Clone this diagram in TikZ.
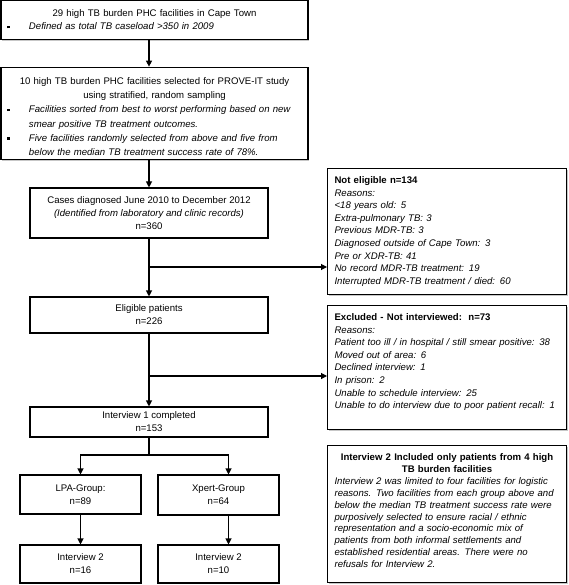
\documentclass[tikz,border=0pt]{standalone}
\usepackage{fontspec}
\setmainfont{Liberation Sans}
\usetikzlibrary{arrows.meta,shadows}
\newcommand{\sqbullet}{\raisebox{1.6pt}{\rule{2.6pt}{2.6pt}}}
\newcommand{\bulletline}[1]{\par\noindent\makebox[300pt][l]{\hspace*{6.5pt}\makebox[21.5pt][l]{\sqbullet}\itshape #1}\par}
\newcommand{\moreline}[1]{\par\noindent\makebox[300pt][l]{\hspace*{28pt}\itshape #1}\par}
\newcommand{\padbottom}[1]{\rule[-#1]{0pt}{#1}}
\tikzset{
  boxshadow/.style={drop shadow={shadow xshift=1.2pt, shadow yshift=-1.2pt, fill=black!22, opacity=1}},
  flowbox/.style={draw, fill=white, boxshadow, line width=1.1pt, align=center, inner sep=0pt,
    font=\fontsize{9.6}{13}\selectfont},
  sitebox/.style={draw, fill=white, boxshadow, line width=1.1pt, inner xsep=0pt, inner ysep=4pt, text width=307pt,
    font=\fontsize{9.6}{13}\selectfont},
  reasonbox/.style={draw, fill=white, boxshadow, line width=1.1pt, anchor=north west, inner xsep=7pt, inner ysep=8pt,
    text width=225pt, align=left, font=\fontsize{9.6}{12.6}\selectfont},
  flow/.style={-{Triangle[length=6pt,width=6pt]}, line width=1.1pt}
}
\begin{document}
\begin{tikzpicture}[x=1pt,y=-1pt]
  \useasboundingbox (0,0) rectangle (568,585);
  % left column
  \node[sitebox, minimum height=39pt] (sites) at (154.5,20)
    {{\centering 29 high TB burden PHC facilities in Cape Town\par}%
     \bulletline{Defined as total TB caseload >350 in 2009}};
  \node[sitebox, minimum height=89pt, font=\fontsize{9.6}{14.3}\selectfont] (facilities) at (154.5,113.5)
    {{\centering\rule{0pt}{13pt}10 high TB burden PHC facilities selected for PROVE-IT study\\ using stratified, random sampling\par}%
     \bulletline{Facilities sorted from best to worst performing based on new}%
     \moreline{smear positive TB treatment outcomes.}%
     \bulletline{Five facilities randomly selected from above and five from}%
     \moreline{below the median TB treatment success rate of 78\%.}};
  \node[flowbox, minimum width=238pt, minimum height=50pt] (cases) at (149,213)
    {Cases diagnosed June 2010 to December 2012\\ \textit{(Identified from laboratory and clinic records)}\\ n=360};
  \node[flowbox, minimum width=238pt, minimum height=36pt] (eligible) at (149,315) {Eligible patients\\ n=226};
  \node[flowbox, minimum width=238pt, minimum height=30pt] (interview1) at (149,422) {Interview 1 completed\\ n=153};
  \node[flowbox, minimum width=121pt, minimum height=39pt] (lpa) at (80.5,494.5) {LPA-Group:\\ n=89};
  \node[flowbox, minimum width=121pt, minimum height=40pt] (xpert) at (218.5,495) {Xpert-Group\\ n=64};
  \node[flowbox, minimum width=121pt, minimum height=38pt] (lpa2) at (80.5,564) {Interview 2\\ n=16};
  \node[flowbox, minimum width=121pt, minimum height=38pt] (xpert2) at (218.5,564) {Interview 2\\ n=10};
  % right column
  \node[reasonbox] (noteligible) at (327,168)
    {\textbf{Not eligible n=134}\\ \itshape Reasons:\\ <18 years old: 5\\ Extra-pulmonary TB: 3\\ Previous MDR-TB: 3\\
     Diagnosed outside of Cape Town: 3\\ Pre or XDR-TB: 41\\ No record MDR-TB treatment: 19\\
     Interrupted MDR-TB treatment / died: 60};
  \node[reasonbox] (excluded) at (327,305)
    {\textbf{Excluded - Not interviewed:\ \ n=73}\\ \itshape Reasons:\\ Patient too ill / in hospital / still smear positive: 38\\
     Moved out of area: 6\\ Declined interview: 1\\ In prison: 2\\ Unable to schedule interview: 25\\
     Unable to do interview due to poor patient recall: 1\padbottom{13pt}};
  \node[reasonbox, font=\fontsize{9.6}{11.9}\selectfont] (restriction) at (327,445)
    {{\centering\bfseries Interview 2 Included only patients from 4 high\\ TB burden facilities\par}%
     \itshape Interview 2 was limited to four facilities for logistic\\ reasons. Two facilities from each group above and\\
     below the median TB treatment success rate were\\ purposively selected to ensure racial / ethnic\\
     representation and a socio-economic mix of\\ patients from both informal settlements and\\
     established residential areas. There were no\\ refusals for Interview 2.\padbottom{7pt}};
  % connectors
  \coordinate (split1) at (149,267);
  \coordinate (split2) at (149,376);
  \coordinate (split3) at (149,455);
  \begin{scope}[flow]
    \draw (cases.north |- sites.south) -- (cases.north |- facilities.north);
    \draw (cases.north |- facilities.south) -- (cases.north);
    \draw (cases.south) -- (eligible.north);
    \draw (split1) -- (split1 -| noteligible.west);
    \draw (eligible.south) -- (interview1.north);
    \draw (split2) -- (split2 -| excluded.west);
    \draw[-] (interview1.south) -- (split3);
    \draw (split3) -| (lpa.north);
    \draw (split3) -| ([xshift=10pt]xpert.north);
    \draw (lpa.south) -- (lpa2.north);
    \draw ([xshift=10pt]xpert.south) -- ([xshift=10pt]xpert2.north);
  \end{scope}
\end{tikzpicture}
\end{document}
